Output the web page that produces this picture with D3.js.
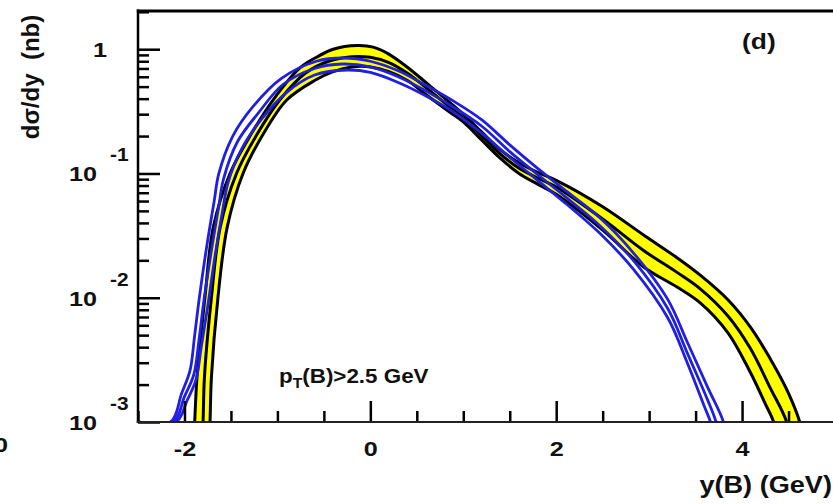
<!DOCTYPE html>
<html>
<head>
<meta charset="utf-8">
<script src="https://cdn.jsdelivr.net/npm/d3@7"></script>
<style>
  body { margin: 0; background: #fff; }
  text { font-family: "Liberation Sans", Arial, Helvetica, sans-serif; font-weight: bold; fill: #111; }
</style>
</head>
<body>
<div id="chart"></div>
<script>
// Axis ticks
const xMajorTicks = [-2, 0, 2, 4];
const xMinorTicks = [-2.5, -1.5, -1, -0.5, 0.5, 1, 1.5, 2.5, 3, 3.5, 4.5];
const yMajorTicks = [1, 0.1, 0.01, 0.001];
const yTickBases = ['1', '10', '10', '10'];
const yTickExps = ['', '-1', '-2', '-3'];

// Yellow band: upper edge, central line, lower edge  [y(B), dsigma/dy]
const bandUpper = [
  [-1.91, 0.0005], [-1.89, 0.001], [-1.865, 0.0023], [-1.78, 0.01], [-1.69, 0.037],
  [-1.51, 0.1], [-1.295, 0.2], [-1.047, 0.39], [-0.755, 0.71], [-0.57, 0.87],
  [-0.40, 1.0], [-0.14, 1.07], [0.03, 1.04], [0.18, 0.93], [0.395, 0.72],
  [0.61, 0.53], [0.86, 0.37], [1.0, 0.30], [1.2, 0.215], [1.4, 0.155],
  [1.6, 0.122], [1.8, 0.102], [2.0, 0.088], [2.5, 0.054], [2.94, 0.032],
  [3.3, 0.021], [3.55, 0.0152], [3.85, 0.0096], [4.09, 0.0058], [4.35, 0.0028],
  [4.5, 0.0017], [4.62, 0.001], [4.7, 0.0005]
];
const bandCentral = [
  [-1.82, 0.0005], [-1.80, 0.001], [-1.785, 0.0023], [-1.71, 0.01], [-1.615, 0.037],
  [-1.44, 0.1], [-1.23, 0.2], [-0.975, 0.39], [-0.7, 0.64], [-0.45, 0.80],
  [-0.2, 0.87], [0.0, 0.86], [0.2, 0.78], [0.4, 0.64], [0.6, 0.49],
  [0.86, 0.34], [1.0, 0.28], [1.2, 0.20], [1.4, 0.143], [1.6, 0.11],
  [1.8, 0.092], [2.0, 0.078], [2.5, 0.043], [2.94, 0.024], [3.3, 0.016],
  [3.55, 0.0118], [3.85, 0.0071], [4.09, 0.0039], [4.3, 0.0019], [4.48, 0.001],
  [4.56, 0.0005]
];
const bandLower = [
  [-1.74, 0.0005], [-1.725, 0.001], [-1.71, 0.0023], [-1.64, 0.01], [-1.54, 0.037],
  [-1.37, 0.1], [-1.165, 0.2], [-0.90, 0.39], [-0.6, 0.56], [-0.4, 0.66],
  [-0.2, 0.72], [0.0, 0.72], [0.2, 0.66], [0.4, 0.56], [0.6, 0.43],
  [0.86, 0.31], [1.0, 0.26], [1.2, 0.185], [1.4, 0.132], [1.6, 0.10],
  [1.8, 0.082], [2.0, 0.068], [2.5, 0.035], [2.94, 0.0177], [3.3, 0.0122],
  [3.55, 0.0091], [3.85, 0.0052], [4.09, 0.0025], [4.25, 0.0014], [4.34, 0.001],
  [4.42, 0.0005]
];

// Blue curves
const blueUpper = [
  [-2.5, 0.001], [-2.15, 0.001], [-2.03, 0.0017], [-1.94, 0.0026], [-1.89, 0.005],
  [-1.84, 0.01], [-1.76, 0.026], [-1.68, 0.06], [-1.63, 0.1], [-1.48, 0.2],
  [-1.27, 0.34], [-0.96, 0.58], [-0.58, 0.80], [-0.29, 0.85], [0.0, 0.80],
  [0.3, 0.67], [0.6, 0.51], [0.9, 0.38], [1.2, 0.27], [1.5, 0.17],
  [1.8, 0.11], [2.12, 0.071], [2.47, 0.044], [2.83, 0.023], [3.2, 0.0097],
  [3.41, 0.0044], [3.63, 0.0019], [3.8, 0.001], [3.86, 0.0006]
];
const blueCentral = [
  [-2.5, 0.001], [-2.12, 0.001], [-2.0, 0.0016], [-1.9, 0.0024], [-1.845, 0.0045],
  [-1.79, 0.0096], [-1.71, 0.024], [-1.63, 0.055], [-1.58, 0.09], [-1.43, 0.18],
  [-1.2, 0.31], [-0.94, 0.52], [-0.6, 0.70], [-0.3, 0.76], [0.0, 0.72],
  [0.3, 0.60], [0.6, 0.46], [0.9, 0.34], [1.2, 0.24], [1.5, 0.15],
  [1.8, 0.098], [2.12, 0.063], [2.47, 0.038], [2.83, 0.020], [3.2, 0.0082],
  [3.41, 0.0036], [3.63, 0.0015], [3.72, 0.001], [3.78, 0.0006]
];
const blueLower = [
  [-2.5, 0.001], [-2.09, 0.001], [-1.97, 0.0015], [-1.875, 0.0022], [-1.82, 0.004],
  [-1.75, 0.0085], [-1.67, 0.022], [-1.59, 0.05], [-1.53, 0.085], [-1.38, 0.16],
  [-1.16, 0.28], [-0.9, 0.45], [-0.6, 0.62], [-0.25, 0.68], [0.0, 0.65],
  [0.3, 0.54], [0.6, 0.42], [0.9, 0.31], [1.2, 0.21], [1.5, 0.135],
  [1.8, 0.088], [2.12, 0.056], [2.47, 0.033], [2.83, 0.017], [3.2, 0.0069],
  [3.41, 0.003], [3.6, 0.0013], [3.66, 0.001], [3.72, 0.0006]
];

const W = 833, H = 504;
const svg = d3.select('#chart').append('svg')
  .attr('width', W).attr('height', H);

// Scales
const x = d3.scaleLinear().domain([-2.5, 5]).range([138, 835]);
const y = d3.scaleLog().domain([0.001, 2.03]).range([422, 11]);

svg.append('clipPath').attr('id', 'plot-clip')
  .append('rect')
  .attr('x', x.range()[0]).attr('y', y.range()[1])
  .attr('width', x.range()[1] - x.range()[0])
  .attr('height', y.range()[0] - y.range()[1]);

const line = d3.line()
  .x(d => x(d[0]))
  .y(d => y(d[1]))
  .curve(d3.curveCatmullRom.alpha(0.5));

const plot = svg.append('g').attr('clip-path', 'url(#plot-clip)');

// Yellow band fill
const bandPath = line(bandUpper) + line(bandLower.slice().reverse()).replace(/^M/, 'L') + 'Z';
plot.append('path')
  .attr('d', bandPath)
  .attr('fill', '#ffff00')
  .attr('stroke', 'none');

// Black lines of the band
[bandUpper, bandCentral, bandLower].forEach(s => {
  plot.append('path')
    .attr('d', line(s))
    .attr('fill', 'none')
    .attr('stroke', '#000')
    .attr('stroke-width', 3);
});

// Blue lines
[blueUpper, blueCentral, blueLower].forEach(s => {
  plot.append('path')
    .attr('d', line(s))
    .attr('fill', 'none')
    .attr('stroke', '#1f1fe0')
    .attr('stroke-width', 2.8);
});

// X axis: minor ticks
svg.append('g')
  .attr('transform', `translate(0,${y.range()[0]})`)
  .call(d3.axisBottom(x).tickValues(xMinorTicks).tickSize(-11).tickFormat(''))
  .call(g => g.select('.domain').remove())
  .selectAll('line').attr('stroke', '#000').attr('stroke-width', 2.5);

// X axis: major ticks with labels
const xAxisG = svg.append('g')
  .attr('transform', `translate(0,${y.range()[0]})`)
  .call(d3.axisBottom(x).tickValues(xMajorTicks).tickSize(-21).tickPadding(19).tickFormat(d3.format('d')))
  .call(g => g.select('.domain').remove());
xAxisG.selectAll('line').attr('stroke', '#000').attr('stroke-width', 2.5);
xAxisG.selectAll('text')
  .attr('font-size', 21)
  .attr('font-family', '"Liberation Sans", Arial, sans-serif')
  .attr('font-weight', 'bold')
  .attr('fill', '#111')
  .attr('transform', 'scale(1.2,1)')
  .text(d => d < 0 ? '-' + Math.abs(d) : d);

// Y axis: minor ticks (log)
const yMinorTicks = [];
[0.001, 0.01, 0.1, 1].forEach(dec => {
  for (let k = 2; k <= 9; k++) {
    const v = k * dec;
    if (v <= y.domain()[1]) yMinorTicks.push(v);
  }
});
svg.append('g')
  .attr('transform', `translate(${x.range()[0]},0)`)
  .call(d3.axisLeft(y).tickValues(yMinorTicks).tickSize(-11).tickFormat(''))
  .call(g => g.select('.domain').remove())
  .selectAll('line').attr('stroke', '#000').attr('stroke-width', 2.5);

// Y axis: major ticks
svg.append('g')
  .attr('transform', `translate(${x.range()[0]},0)`)
  .call(d3.axisLeft(y).tickValues(yMajorTicks).tickSize(-22).tickFormat(''))
  .call(g => g.select('.domain').remove())
  .selectAll('line').attr('stroke', '#000').attr('stroke-width', 2.5);

// Y tick labels with exponents
yMajorTicks.forEach((v, i) => {
  const ty = y(v);
  if (yTickExps[i] === '') {
    svg.append('text')
      .attr('transform', `translate(107,${ty + 8}) scale(1.2,1)`)
      .attr('text-anchor', 'end')
      .attr('font-size', 21)
      .text(yTickBases[i]);
  } else {
    svg.append('text')
      .attr('transform', `translate(97,${ty + 8}) scale(1.2,1)`)
      .attr('text-anchor', 'end')
      .attr('font-size', 21)
      .text(yTickBases[i]);
    svg.append('text')
      .attr('transform', `translate(110,${ty - 12}) scale(1.1,1)`)
      .attr('text-anchor', 'start')
      .attr('font-size', 19)
      .text(yTickExps[i]);
  }
});

// Frame lines
svg.append('line')
  .attr('x1', x.range()[0]).attr('x2', x.range()[0])
  .attr('y1', y.range()[1] - 1.5).attr('y2', y.range()[0] + 1)
  .attr('stroke', '#000').attr('stroke-width', 2.5);
svg.append('line')
  .attr('x1', x.range()[0] - 1.2).attr('x2', W)
  .attr('y1', y.range()[1]).attr('y2', y.range()[1])
  .attr('stroke', '#000').attr('stroke-width', 3);
svg.append('line')
  .attr('x1', x.range()[0] - 1.2).attr('x2', W)
  .attr('y1', y.range()[0]).attr('y2', y.range()[0])
  .attr('stroke', '#222').attr('stroke-width', 2);

// Axis titles
svg.append('text')
  .attr('transform', 'translate(39,77) rotate(-90)')
  .attr('text-anchor', 'middle')
  .attr('font-size', 24)
  .style('white-space', 'pre')
  .text('d\u03c3/dy  (nb)');

svg.append('text')
  .attr('transform', 'translate(832,493) scale(1.18,1)')
  .attr('text-anchor', 'end')
  .attr('font-size', 23)
  .text('y(B) (GeV)');

// Panel label
svg.append('text')
  .attr('transform', 'translate(742,49) scale(1.2,1)')
  .attr('font-size', 22)
  .text('(d)');

// Cut annotation
const cut = svg.append('text')
  .attr('transform', 'translate(279,383) scale(1.12,1)')
  .attr('font-size', 20);
cut.append('tspan').text('p');
cut.append('tspan').attr('font-size', 14).attr('dy', 5).text('T');
cut.append('tspan').attr('dy', -5).text('(B)>2.5 GeV');

// Partial tick label from the neighbouring panel at the left edge
svg.append('text')
  .attr('transform', 'translate(8,452) scale(1.2,1)')
  .attr('text-anchor', 'end')
  .attr('font-size', 21)
  .text('0');
</script>
</body>
</html>
